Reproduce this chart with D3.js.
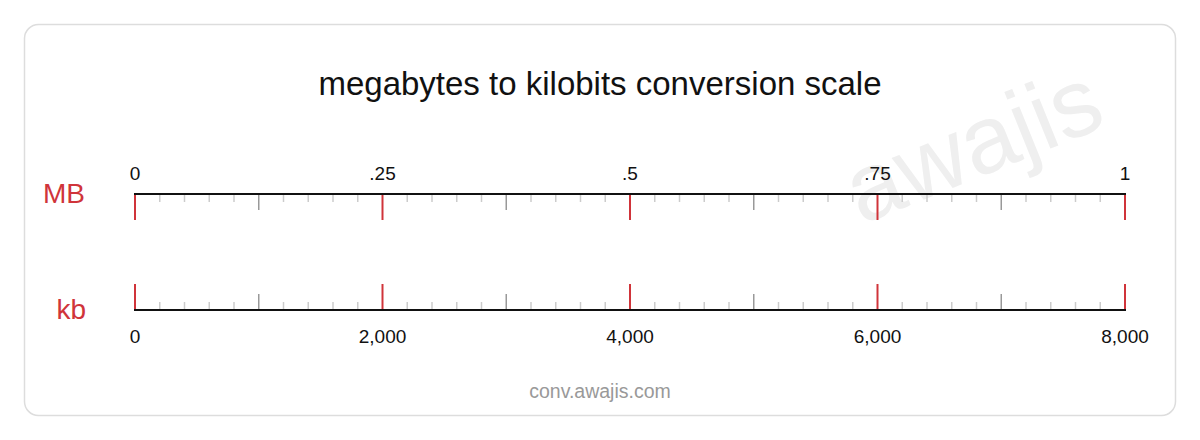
<!DOCTYPE html><html><head><meta charset="utf-8"><script src="https://cdn.jsdelivr.net/npm/d3@7"></script>
<style>body{margin:0;background:#fff;font-family:"Liberation Sans",Arial,sans-serif}</style></head><body><svg id="c" width="1200" height="440"></svg><script>
const title="megabytes to kilobits conversion scale";
const topTicks=[0,0.25,0.5,0.75,1], topLabels=["0",".25",".5",".75","1"];
const botTicks=[0,2000,4000,6000,8000], botLabels=["0","2,000","4,000","6,000","8,000"];
const svg=d3.select("#c");
svg.append("rect").attr("x",24.5).attr("y",24.5).attr("width",1151).attr("height",391).attr("rx",14).attr("fill","#fff").attr("stroke","#ddd").attr("stroke-width",1.5);
svg.append("text").attr("x",0).attr("y",0).attr("transform","translate(985,175) rotate(-22)").attr("text-anchor","middle").attr("font-size",96).attr("fill","#efefef").text("awajis");
svg.append("text").attr("x",600).attr("y",95).attr("text-anchor","middle").attr("font-size",33).attr("fill","#111").text(title);
svg.append("text").attr("x",600).attr("y",398).attr("text-anchor","middle").attr("font-size",19.5).attr("fill","#999").text("conv.awajis.com");
const xt=d3.scaleLinear().domain([0,1]).range([135,1125]);
const xb=d3.scaleLinear().domain([0,8000]).range([135,1125]);
function ruler(x,ticks,labels,y,dir,labY){
  const d0=x.domain()[0],d1=x.domain()[1],n=40;
  for(let i=0;i<=n;i++){const v=d0+(d1-d0)*i/n;const major=i%10==0,mid=i%5==0;
    const len=major?26:mid?16:8;
    svg.append("line").attr("x1",x(v)).attr("x2",x(v)).attr("y1",y).attr("y2",y+dir*len)
      .attr("stroke",major?"#d0343a":mid?"#999":"#ccc").attr("stroke-width",major?2:1.5);}
  svg.append("line").attr("x1",x(d0)-1).attr("x2",x(d1)+1).attr("y1",y).attr("y2",y).attr("stroke","#111").attr("stroke-width",2);
  ticks.forEach((t,i)=>svg.append("text").attr("x",x(t)).attr("y",labY).attr("text-anchor","middle").attr("font-size",19).attr("fill","#111").text(labels[i]));
}
ruler(xt,topTicks,topLabels,194,1,180);
ruler(xb,botTicks,botLabels,310,-1,343);
svg.append("text").attr("x",85).attr("y",203).attr("text-anchor","end").attr("font-size",28).attr("fill","#d0343a").text("MB");
svg.append("text").attr("x",86).attr("y",319).attr("text-anchor","end").attr("font-size",28).attr("fill","#d0343a").text("kb");
</script></body></html>
